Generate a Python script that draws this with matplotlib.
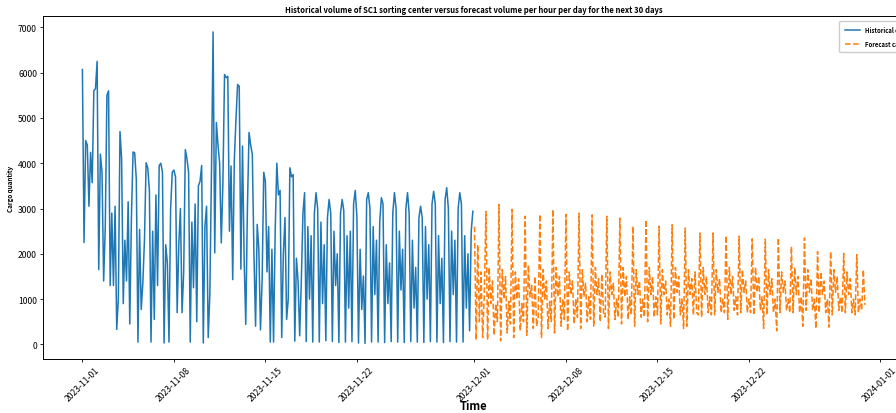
import numpy as np
import pandas as pd
import matplotlib
matplotlib.use("Agg")
import matplotlib.pyplot as plt
import matplotlib.dates as mdates

plt.rcParams['font.family'] = ['Noto Sans CJK SC', 'DejaVu Sans']

# historical volume, one row per day (Nov 2023), values at 0h,3h,...,21h
hist_days = [
    [6070, 2250, 4500, 4400, 3050, 4240, 3570, 5600],
    [5650, 6250, 1650, 4200, 3800, 1400, 2600, 5500],
    [5600, 1300, 2900, 1300, 3050, 330, 1000, 4700],
    [4100, 900, 2300, 1400, 3150, 450, 2800, 4250],
    [4230, 3640, 50, 2540, 770, 1360, 2320, 4010],
    [3900, 3400, 50, 2500, 550, 3300, 1300, 3950],
    [4000, 3800, 30, 2200, 1800, 50, 3000, 3800],
    [3850, 3700, 700, 2200, 3000, 700, 1600, 4300],
    [4100, 3800, 50, 2700, 1250, 3100, 500, 3500],
    [3600, 3950, 30, 2600, 3050, 150, 1100, 3800],
    [6900, 2020, 4900, 4400, 4000, 2240, 3570, 5960],
    [5890, 5920, 2500, 3940, 1430, 4080, 4970, 5740],
    [5700, 1660, 4380, 1880, 440, 3000, 4680, 4400],
    [4200, 2000, 400, 2650, 2100, 320, 1400, 3800],
    [3600, 1600, 2600, 50, 2100, 50, 2500, 4000],
    [3300, 3400, 150, 2000, 2800, 550, 1000, 3900],
    [3700, 3750, 70, 1900, 1400, 190, 1400, 2900],
    [3350, 60, 2600, 1000, 2400, 50, 2900, 3350],
    [3000, 50, 2700, 900, 2200, 80, 2800, 3200],
    [2900, 60, 2500, 1300, 2000, 40, 2900, 3200],
    [2950, 50, 2400, 800, 2500, 60, 3100, 3400],
    [2840, 30, 2100, 770, 1510, 20, 3200, 3350],
    [3000, 50, 2600, 1100, 2300, 50, 2700, 3240],
    [3100, 40, 2200, 900, 1800, 60, 2900, 3350],
    [3000, 50, 2500, 1200, 2100, 40, 3000, 3350],
    [2900, 60, 2300, 800, 1700, 50, 2800, 3050],
    [2800, 40, 2600, 1000, 2200, 60, 3100, 3380],
    [3100, 50, 2400, 900, 1900, 40, 3200, 3460],
    [3000, 60, 2500, 1100, 2300, 50, 3000, 3350],
    [3100, 50, 2400, 800, 2000, 300, 2500, 2940],
]

# forecast volume every 3h from 2023-12-01, one row per daily cycle (each ends on its peak)
fc_cycles = [
    [2600, 100, 2200, 500, 1600, 150, 1100, 2940],
    [100, 1700, 900, 1400, 200, 900, 500, 3090],
    [80, 1650, 1000, 1500, 250, 950, 450, 2980],
    [150, 1600, 1000, 1450, 300, 900, 500, 2830],
    [200, 1750, 1050, 1300, 350, 1500, 400, 600, 2870],
    [150, 1650, 1000, 1400, 350, 950, 500, 2980],
    [250, 1700, 1050, 1500, 400, 1000, 550, 2870],
    [300, 1600, 1100, 1400, 450, 1000, 600, 2900],
    [350, 1650, 1050, 1350, 500, 1050, 550, 2860],
    [400, 1700, 1100, 1450, 500, 1550, 700, 600, 2830],
    [350, 1600, 1100, 1350, 550, 1000, 600, 2790],
    [450, 1700, 1050, 1500, 550, 1050, 650, 2610],
    [400, 1650, 1100, 1400, 600, 1000, 600, 2750],
    [500, 1700, 1100, 1500, 600, 1050, 650, 2610],
    [450, 1650, 1100, 1400, 650, 1000, 400, 2640],
    [550, 1700, 1150, 1500, 650, 1000, 350, 2570],
    [400, 1650, 1100, 1450, 650, 1600, 700, 650, 2460],
    [600, 1700, 1100, 1500, 700, 1050, 650, 2460],
    [650, 1650, 1150, 1450, 700, 1000, 700, 2400],
    [550, 1700, 1100, 1500, 750, 1050, 650, 2390],
    [700, 1650, 1150, 1400, 700, 1000, 700, 2330],
    [650, 1700, 1150, 1500, 750, 1050, 350, 2320],
    [650, 1650, 1100, 1450, 700, 1000, 300, 2350],
    [700, 1600, 1150, 1400, 750, 1000, 700, 2160],
    [700, 1700, 1100, 1500, 700, 1050, 400, 2350],
    [750, 1650, 1150, 1450, 750, 1000, 350, 2050],
    [700, 1600, 1100, 1400, 700, 1000, 380, 2050],
    [650, 1650, 1150, 1500, 750, 1050, 700, 2010],
    [700, 1600, 1100, 1450, 700, 1000, 650, 1980],
    [700, 1000, 750, 1650, 870],
]

hist_vals = [v for day in hist_days for v in day]
fc_vals = [v for cyc in fc_cycles for v in cyc]

hist_time = pd.date_range('2023-11-01', periods=len(hist_vals), freq='3h')
fc_time = pd.date_range('2023-12-01', periods=len(fc_vals), freq='3h')

fig = plt.figure(figsize=(8.96, 4.14), dpi=100)
ax = fig.add_axes([0.0483, 0.1304, 0.9607, 0.8276])

ax.plot(hist_time, hist_vals, color='#1f77b4', lw=1.1, label='Historical cargo volume')
ax.plot(fc_time, fc_vals, color='#ff7f0e', lw=1.1, linestyle='--', label='Forecast cargo volume')

ax.xaxis.set_major_locator(mdates.DayLocator(bymonthday=[1, 8, 15, 22]))
ax.xaxis.set_major_formatter(mdates.DateFormatter('%Y-%m-%d'))
plt.setp(ax.get_xticklabels(), rotation=45)

ax.tick_params(labelsize=6.2, length=2.5, width=0.6, pad=2)
for s in ax.spines.values():
    s.set_linewidth(0.7)

ax.set_title('Historical volume of SC1 sorting center versus forecast volume per hour per day for the next 30 days',
             fontsize=5.5, fontweight='bold', pad=3)
ax.set_xlabel('Time', fontsize=8, fontweight='bold')
ax.xaxis.set_label_coords(0.5, -0.118)
ax.set_ylabel('Cargo quantity', fontsize=4.5, fontweight='bold', labelpad=3)

leg = ax.legend(loc='upper left', bbox_to_anchor=(0.9215, 0.995),
                prop={'weight': 'bold', 'size': 4.3}, handlelength=2.6, labelspacing=1.05,
                handletextpad=0.7, borderpad=0.9, framealpha=1)

fig.savefig('out.png', dpi=100)
